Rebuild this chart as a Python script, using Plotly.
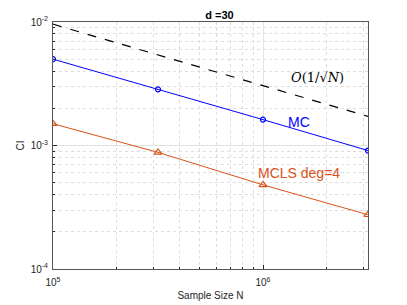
import plotly.graph_objects as go

N = [1e5, 3.1623e5, 1e6, 3.1623e6]
mc = [5.0e-3, 2.85e-3, 1.62e-3, 9.1e-4]
mcls = [1.5e-3, 8.8e-4, 4.8e-4, 2.75e-4]
ref_N = [1e5, 3.1623e6]
ref_ci = [9.6e-3, 1.72e-3]

xtick_vals = [1e5, 1e6]
xtick_text = ["10<sup>5</sup>", "10<sup>6</sup>"]
ytick_vals = [1e-4, 1e-3, 1e-2]
ytick_text = ["10<sup>-4</sup>", "10<sup>-3</sup>", "10<sup>-2</sup>"]

x_minor = [m * 10 ** e for e in (5, 6) for m in range(2, 10)]
y_minor = [m * 10 ** e for e in (-4, -3) for m in range(2, 10)]

blue = "#0000ff"
orange = "#D95319"

fig = go.Figure()
fig.add_trace(go.Scatter(x=ref_N, y=ref_ci, mode="lines",
                         line=dict(color="black", width=1.2, dash="dash")))
fig.add_trace(go.Scatter(x=N, y=mc, mode="lines+markers",
                         line=dict(color=blue, width=1),
                         marker=dict(symbol="circle-open", size=5, color=blue, line=dict(width=1.2))))
fig.add_trace(go.Scatter(x=N, y=mcls, mode="lines+markers",
                         line=dict(color=orange, width=1),
                         marker=dict(symbol="triangle-up-open", size=7, color=orange, line=dict(width=1.2))))

fig.add_annotation(x=6.26, y=-2.45, xref="x", yref="y", showarrow=False,
                   text="<i>O</i>(1/√<i>N</i>)",
                   font=dict(family="DejaVu Serif", size=13, color="black"))
fig.add_annotation(x=6.17, y=-2.81, xref="x", yref="y", showarrow=False,
                   text="MC", font=dict(family="Liberation Sans", size=14, color=blue))
fig.add_annotation(x=6.17, y=-3.22, xref="x", yref="y", showarrow=False,
                   text="MCLS deg=4", font=dict(family="Liberation Sans", size=14, color=orange))

axis_common = dict(
    showline=True, linecolor="#555555", linewidth=1, mirror=True,
    ticks="inside", ticklen=4, tickcolor="#262626",
    showgrid=True, gridcolor="#e2e2e2", gridwidth=1,
    zeroline=False,
    tickfont=dict(family="Liberation Sans", size=10, color="#262626"),
)

fig.update_xaxes(type="log", range=[5, 6.5], tickmode="array", tickvals=xtick_vals, ticktext=xtick_text,
                 ticklabelstandoff=4,
                 minor=dict(tickmode="array", tickvals=x_minor, showgrid=True, gridcolor="#dddddd", griddash="dot",
                            ticks="inside", ticklen=2, tickcolor="#262626"),
                 title=dict(text="Sample Size N", font=dict(family="Liberation Sans", size=10, color="#262626"),
                            standoff=4),
                 **axis_common)
fig.update_yaxes(type="log", range=[-4, -2], tickmode="array", tickvals=ytick_vals, ticktext=ytick_text,
                 ticklabelstandoff=2,
                 minor=dict(tickmode="array", tickvals=y_minor, showgrid=True, gridcolor="#dddddd", griddash="dot",
                            ticks="inside", ticklen=2, tickcolor="#262626"),
                 title=dict(text="CI", font=dict(family="Liberation Sans", size=10, color="#262626"),
                            standoff=4),
                 **axis_common)

fig.update_layout(
    width=399, height=297,
    margin=dict(l=45, r=39, t=14, b=36, autoexpand=False),
    paper_bgcolor="white", plot_bgcolor="white",
    showlegend=False,
    title=dict(text="<b>d =30</b>", x=0.53, xanchor="center", y=0.99, yanchor="top",
               font=dict(family="Liberation Sans", size=11, color="black")),
)

fig.write_html("out.html")
